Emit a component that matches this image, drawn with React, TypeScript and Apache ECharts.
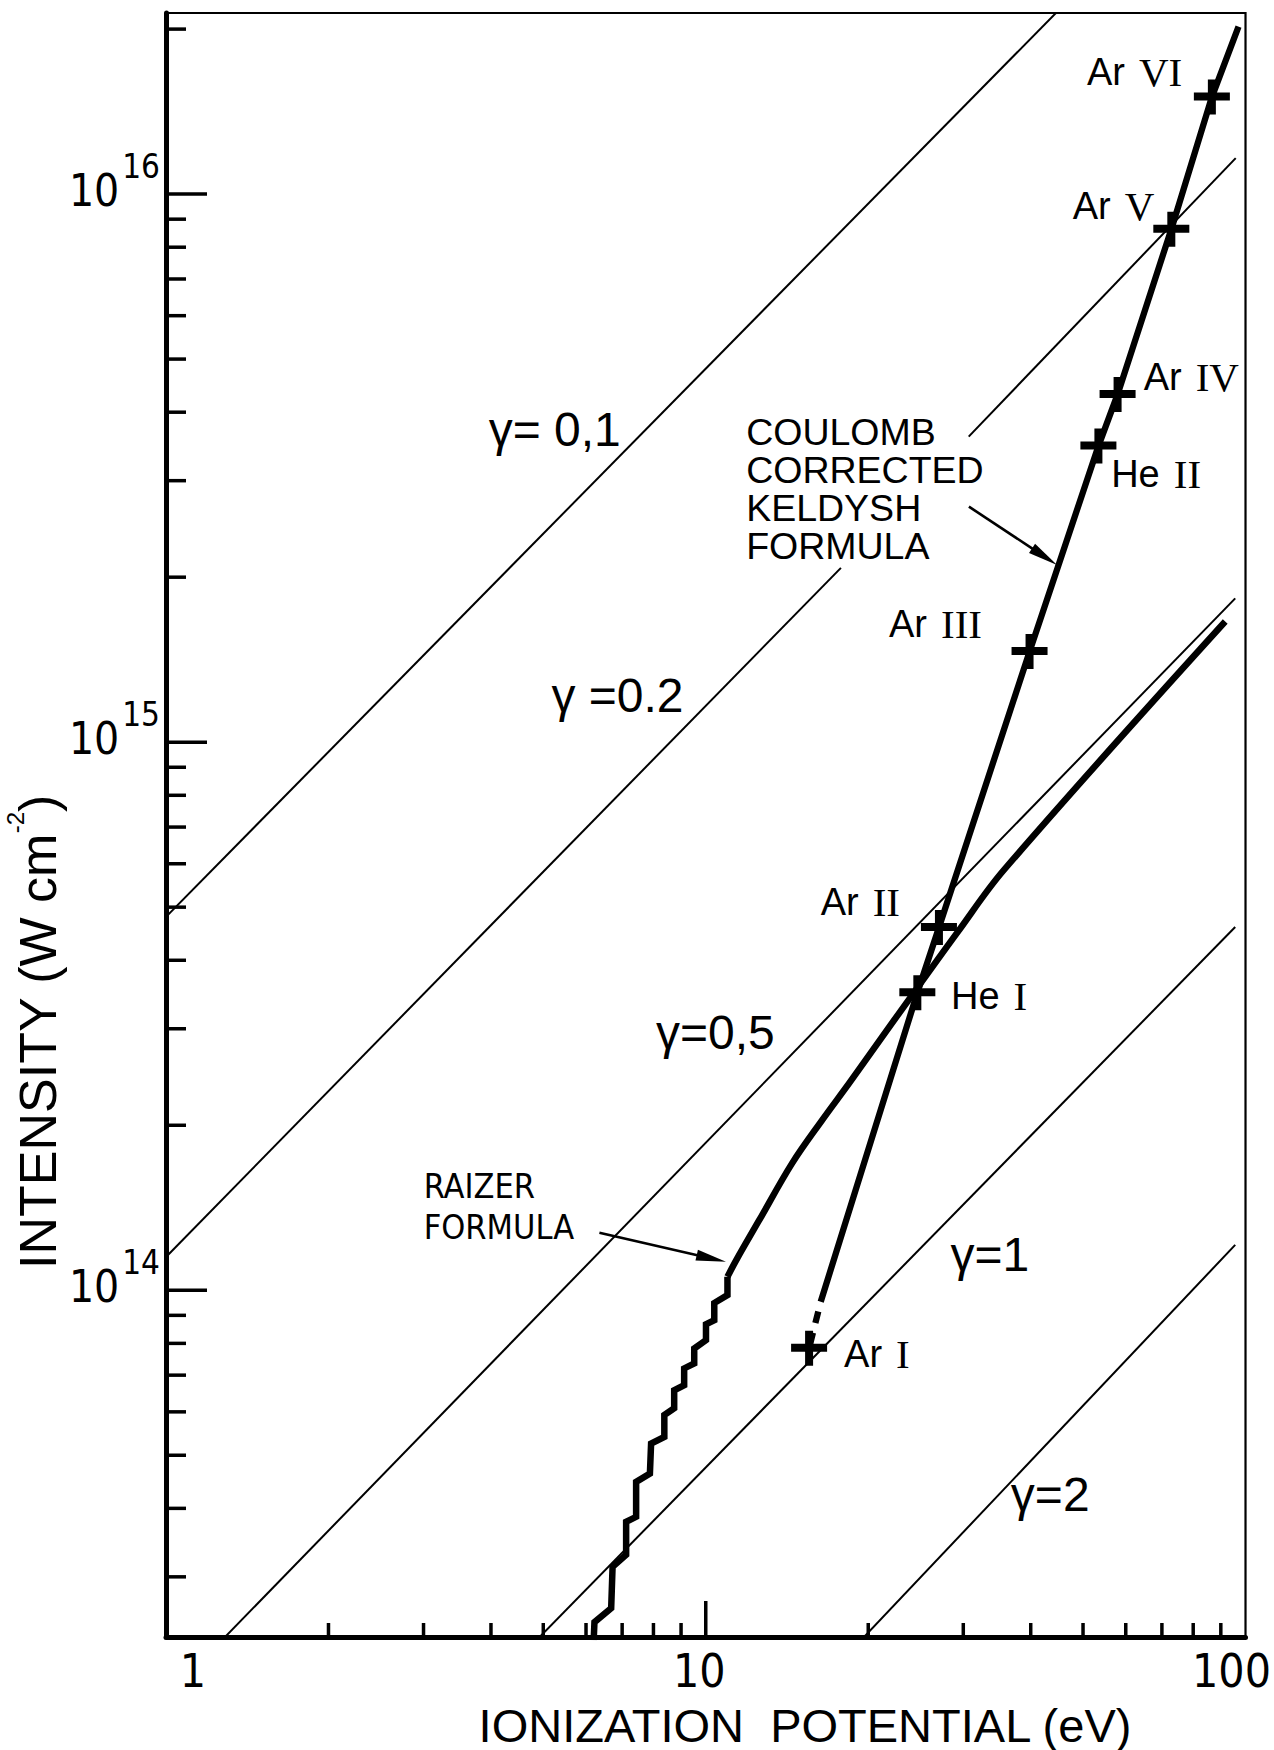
import React, { useEffect, useRef } from "react";
import * as echarts from "echarts";

// ---- axis ranges --------------------------------------------------------
const IP_MIN = 1;
const IP_MAX = 100;
const INTENSITY_MIN = 2.33e13;
const INTENSITY_MAX = 2.14e16;

// ---- tick values (drawn inward, like the hand-drawn frame) ---------------
const IP_MAJOR_TICKS = [10];
const IP_MINOR_TICKS = [2, 3, 4, 5, 6, 7, 8, 9, 20, 30, 40, 50, 60, 70, 80, 90];
const INTENSITY_MAJOR_TICKS = [1e14, 1e15, 1e16];
const INTENSITY_MINOR_TICKS = [
  3e13, 4e13, 5e13, 6e13, 7e13, 8e13, 9e13,
  2e14, 3e14, 4e14, 5e14, 6e14, 7e14, 8e14, 9e14,
  2e15, 3e15, 4e15, 5e15, 6e15, 7e15, 8e15, 9e15,
  2e16,
];

// ---- Keldysh parameter guide lines: [Ip (eV), I (W cm^-2)] ---------------
const GAMMA_01 = [[1, 4.8e14], [46, 2.21e16]];
const GAMMA_02_LOWER = [[1, 1.15e14], [17.8, 2.08e15]];
const GAMMA_02_UPPER = [[30.7, 3.61e15], [95.9, 1.163e16]];
const GAMMA_05 = [[1.27, 2.3e13], [95.7, 1.83e15]];
const GAMMA_1 = [[4.86, 2.3e13], [95.7, 4.6e14]];
const GAMMA_2 = [[19.4, 2.3e13], [95.7, 1.21e14]];

// ---- measured appearance intensities of the ions -------------------------
const ION_NAMES = ["Ar I", "He I", "Ar II", "Ar III", "He II", "Ar IV", "Ar V", "Ar VI"];
const ION_POTENTIAL = [15.54, 24.66, 27.04, 39.8, 53.39, 57.94, 72.87, 86.63];
const ION_THRESHOLD = [7.84e13, 3.49e14, 4.59e14, 1.463e15, 3.47e15, 4.31e15, 8.63e15, 1.503e16];

// ---- Coulomb corrected Keldysh formula -----------------------------------
const COULOMB_KELDYSH = [
  [16.33, 9.53e13], [24.66, 3.49e14], [27.04, 4.59e14], [39.8, 1.463e15],
  [53.39, 3.47e15], [57.94, 4.31e15], [72.87, 8.63e15], [86.63, 1.503e16],
  [97.06, 2.02e16],
];
const COULOMB_KELDYSH_EXTENSION = [[16.33, 9.53e13], [15.54, 7.84e13]];

// ---- Raizer formula: stepped part at low Ip, smooth part above ------------
const RAIZER_STEPS = [
  [6.2, 2.3e13], [6.22, 2.48e13], [6.68, 2.63e13], [6.72, 3.13e13],
  [7.12, 3.29e13], [7.12, 3.78e13], [7.43, 3.86e13], [7.43, 4.47e13],
  [7.88, 4.63e13], [7.92, 5.25e13], [8.38, 5.4e13], [8.38, 5.92e13],
  [8.74, 6.09e13], [8.74, 6.57e13], [9.12, 6.71e13], [9.12, 7.2e13],
  [9.52, 7.35e13], [9.52, 7.83e13], [10.01, 8.11e13], [10.01, 8.67e13],
  [10.37, 8.82e13], [10.37, 9.48e13], [10.97, 9.8e13], [10.97, 1.058e14],
];
const RAIZER_SMOOTH = [
  [10.97, 1.058e14], [11.39, 1.135e14], [12.56, 1.342e14], [14.46, 1.706e14],
  [16.43, 2.044e14], [18.44, 2.387e14], [21.21, 2.897e14], [24.49, 3.53e14],
  [29.19, 4.484e14], [35.67, 5.845e14], [91.71, 1.66e15],
];

// ---- annotation arrows: [fromIp, fromI, toIp, toI] ------------------------
const ARROWS = [
  [30.73, 2.69e15, 44.76, 2.106e15],
  [6.353, 1.273e14, 10.9, 1.127e14],
];

// ---- text annotations (anchored in data space) ---------------------------
const GAMMA_LABELS = ["γ= 0,1", "γ =0.2", "γ=0,5", "γ=1", "γ=2"];
const GAMMA_LABEL_AT = [
  [3.961, 3.714e15], [5.177, 1.217e15], [8.089, 2.958e14], [28.4, 1.164e14], [36.75, 4.246e13],
];
const ION_LABEL_AT = [
  [18.04, 7.645e13], [28.46, 3.442e14], [16.33, 5.114e14], [21.85, 1.644e15],
  [56.38, 3.08e15], [64.76, 4.631e15], [47.86, 9.528e15], [50.85, 1.668e16],
];
const COULOMB_NOTE = "COULOMB\nCORRECTED\nKELDYSH\nFORMULA";
const COULOMB_NOTE_AT = [11.88, 3.981e15];
const RAIZER_NOTE = "RAIZER\nFORMULA";
const RAIZER_NOTE_AT = [3.002, 1.692e14];

const NARROW = "'Liberation Sans Narrow', 'DejaVu Sans Condensed', 'Liberation Sans', sans-serif";
const SANS = "'Liberation Sans', 'DejaVu Sans', sans-serif";
const SERIF = "'Liberation Serif', 'DejaVu Serif', serif";
const INK = "#000";

const CROSS = "path://M0,13L36,13L36,21L0,21Z M14,0L22,0L22,35L14,35Z";

function decade(v: number): number | null {
  const l = Math.log10(v);
  const e = Math.round(l);
  return Math.abs(l - e) < 1e-6 ? e : null;
}

function thinLine(name: string, data: number[][]) {
  return {
    type: "line",
    name,
    data,
    symbol: "none",
    showSymbol: false,
    silent: true,
    clip: true,
    z: 2,
    lineStyle: { color: INK, width: 2 },
  };
}

function thickLine(name: string, data: number[][], extra: any = {}) {
  return {
    type: "line",
    name,
    data,
    symbol: "none",
    showSymbol: false,
    silent: true,
    clip: true,
    z: 3,
    ...extra,
    lineStyle: { color: INK, width: 6.3, cap: "butt", join: "miter", miterLimit: 4, ...(extra.lineStyle || {}) },
  };
}

function buildOption() {
  const ionLabel = (name: string) => {
    const [el, num] = name.split(" ");
    return `{sans|${el}}{gap|}{rom|${num}}`;
  };

  const baseLabel = { color: INK, opacity: 1, textBorderWidth: 0 };
  const notes: any[] = [];
  GAMMA_LABELS.forEach((t, i) => {
    notes.push({
      value: GAMMA_LABEL_AT[i],
      label: {
        ...baseLabel,
        formatter: () => t,
        fontSize: 48,
        fontFamily: SANS,
        align: "left",
        verticalAlign: "middle",
      },
    });
  });
  ION_NAMES.forEach((n, i) => {
    notes.push({
      value: ION_LABEL_AT[i],
      label: {
        ...baseLabel,
        formatter: () => ionLabel(n),
        fontSize: 38,
        fontFamily: SANS,
        align: "left",
        verticalAlign: "middle",
        rich: {
          sans: { fontSize: 38, fontFamily: SANS, color: INK },
          gap: { width: 14, fontSize: 38 },
          rom: { fontSize: 41, fontFamily: SERIF, color: INK },
        },
      },
    });
  });
  notes.push({
    value: COULOMB_NOTE_AT,
    label: {
      ...baseLabel,
      formatter: () => COULOMB_NOTE,
      fontSize: 37.5,
      lineHeight: 38,
      fontFamily: SANS,
      align: "left",
      verticalAlign: "top",
    },
  });
  notes.push({
    value: RAIZER_NOTE_AT,
    label: {
      ...baseLabel,
      formatter: () => RAIZER_NOTE,
      fontSize: 34,
      lineHeight: 41,
      fontFamily: NARROW,
      align: "left",
      verticalAlign: "top",
    },
  });

  const xTok = (pad: number[]) => ({ fontSize: 46, fontFamily: NARROW, color: INK, padding: pad });

  return {
    animation: false,
    backgroundColor: "#fff",
    grid: {
      left: 166,
      right: 27,
      top: 13,
      bottom: 113,
      show: true,
      borderColor: INK,
      borderWidth: 2.2,
      backgroundColor: "transparent",
      containLabel: false,
    },
    xAxis: {
      type: "log",
      logBase: 10,
      min: IP_MIN,
      max: IP_MAX,
      axisLine: { onZero: false, lineStyle: { color: INK, width: 5 } },
      axisTick: { show: false },
      minorTick: { show: false },
      splitLine: { show: false },
      axisLabel: {
        margin: 11,
        showMinLabel: true,
        showMaxLabel: true,
        color: INK,
        formatter: (v: number) => {
          const e = decade(v);
          if (e === null) return "";
          return `{x${e}|${Math.round(Math.pow(10, e))}}`;
        },
        rich: {
          x0: xTok([0, 0, 0, 54]),
          x1: xTok([0, 13, 0, 0]),
          x2: xTok([0, 28, 0, 0]),
        },
      },
    },
    yAxis: {
      type: "log",
      logBase: 10,
      min: INTENSITY_MIN,
      max: INTENSITY_MAX,
      axisLine: { onZero: false, lineStyle: { color: INK, width: 5 } },
      axisTick: { show: false },
      minorTick: { show: false },
      splitLine: { show: false },
      axisLabel: {
        margin: 6,
        color: INK,
        formatter: (v: number) => {
          const e = decade(v);
          if (e === null) return "";
          return `{b|10}{s|${e}}`;
        },
        rich: {
          b: { fontSize: 44, fontFamily: NARROW, color: INK, padding: [0, 0, 8, 0] },
          s: { fontSize: 33, fontFamily: NARROW, color: INK, padding: [0, 0, 56, 3] },
        },
      },
    },
    graphic: [
      {
        type: "text",
        x: 805,
        y: 1725,
        silent: true,
        style: {
          text: "IONIZATION  POTENTIAL (eV)",
          fontSize: 47,
          fontFamily: SANS,
          fill: INK,
          align: "center",
          verticalAlign: "middle",
        },
      },
      {
        type: "text",
        x: 38,
        y: 1032,
        rotation: Math.PI / 2,
        silent: true,
        style: {
          text: "{t|INTENSITY (W cm}{s|-2}{t|)}",
          fill: INK,
          align: "center",
          verticalAlign: "middle",
          rich: {
            t: { fontSize: 52, fontFamily: SANS, fill: INK },
            s: { fontSize: 24, fontFamily: SANS, fill: INK, padding: [0, 0, 46, 0] },
          },
        },
      },
    ],
    series: [
      thinLine("γ = 0.1", GAMMA_01),
      thinLine("γ = 0.2", GAMMA_02_LOWER),
      thinLine("γ = 0.2 ", GAMMA_02_UPPER),
      thinLine("γ = 0.5", GAMMA_05),
      thinLine("γ = 1", GAMMA_1),
      thinLine("γ = 2", GAMMA_2),
      thickLine("Coulomb corrected Keldysh formula", COULOMB_KELDYSH),
      thickLine("Coulomb corrected Keldysh formula (extension)", COULOMB_KELDYSH_EXTENSION, {
        lineStyle: { type: [12, 10], dashOffset: 12 },
      }),
      thickLine("Raizer formula (steps)", RAIZER_STEPS, { lineStyle: { width: 6.5 } }),
      thickLine("Raizer formula", RAIZER_SMOOTH, { smooth: 0.35, lineStyle: { width: 6.5 } }),
      {
        type: "scatter",
        name: "ions",
        data: ION_POTENTIAL.map((ip, i) => [ip, ION_THRESHOLD[i]]),
        symbol: CROSS,
        symbolSize: [36, 35],
        silent: true,
        z: 4,
        itemStyle: { color: INK, opacity: 1 },
      },
      {
        type: "custom",
        name: "arrows",
        silent: true,
        z: 4,
        data: ARROWS,
        encode: { x: [0, 2], y: [1, 3] },
        renderItem: (_params: any, api: any) => {
          const p0 = api.coord([api.value(0), api.value(1)]);
          const p1 = api.coord([api.value(2), api.value(3)]);
          const dx = p1[0] - p0[0];
          const dy = p1[1] - p0[1];
          const len = Math.hypot(dx, dy);
          const ux = dx / len;
          const uy = dy / len;
          const headLen = 30;
          const headHalf = 5.5;
          const bx = p1[0] - ux * headLen;
          const by = p1[1] - uy * headLen;
          return {
            type: "group",
            children: [
              {
                type: "line",
                shape: { x1: p0[0], y1: p0[1], x2: bx + ux * 4, y2: by + uy * 4 },
                style: { stroke: INK, lineWidth: 2.6 },
              },
              {
                type: "polygon",
                shape: {
                  points: [
                    [p1[0], p1[1]],
                    [bx - uy * headHalf, by + ux * headHalf],
                    [bx + uy * headHalf, by - ux * headHalf],
                  ],
                },
                style: { fill: INK },
              },
            ],
          };
        },
      },
      {
        type: "custom",
        name: "x ticks",
        silent: true,
        z: 5,
        data: [
          ...IP_MINOR_TICKS.map((v) => [v, INTENSITY_MIN, 0]),
          ...IP_MAJOR_TICKS.map((v) => [v, INTENSITY_MIN, 1]),
        ],
        encode: { x: 0, y: 1 },
        renderItem: (_params: any, api: any) => {
          const p = api.coord([api.value(0), api.value(1)]);
          const len = api.value(2) ? 36 : 14;
          return {
            type: "line",
            shape: { x1: p[0], y1: p[1], x2: p[0], y2: p[1] - len },
            style: { stroke: INK, lineWidth: 3.5 },
          };
        },
      },
      {
        type: "custom",
        name: "y ticks",
        silent: true,
        z: 5,
        data: [
          ...INTENSITY_MINOR_TICKS.map((v) => [IP_MIN, v, 0]),
          ...INTENSITY_MAJOR_TICKS.map((v) => [IP_MIN, v, 1]),
        ],
        encode: { x: 0, y: 1 },
        renderItem: (_params: any, api: any) => {
          const p = api.coord([api.value(0), api.value(1)]);
          const len = api.value(2) ? 41 : 20;
          return {
            type: "line",
            shape: { x1: p[0], y1: p[1], x2: p[0] + len, y2: p[1] },
            style: { stroke: INK, lineWidth: 3.5 },
          };
        },
      },
      {
        type: "scatter",
        name: "notes",
        data: notes,
        symbolSize: 1,
        silent: true,
        z: 6,
        itemStyle: { color: "rgba(0,0,0,0)" },
        label: { show: true, position: "inside", color: INK },
        labelLayout: { hideOverlap: false },
      },
    ],
  };
}

export default function App() {
  const ref = useRef<HTMLDivElement>(null);
  useEffect(() => {
    document.body.style.margin = "0";
    const chart = echarts.init(ref.current as HTMLDivElement, undefined, { renderer: "svg" });
    chart.setOption(buildOption() as any);
    return () => chart.dispose();
  }, []);
  return <div ref={ref} style={{ width: 1274, height: 1750, background: "#fff" }} />;
}
